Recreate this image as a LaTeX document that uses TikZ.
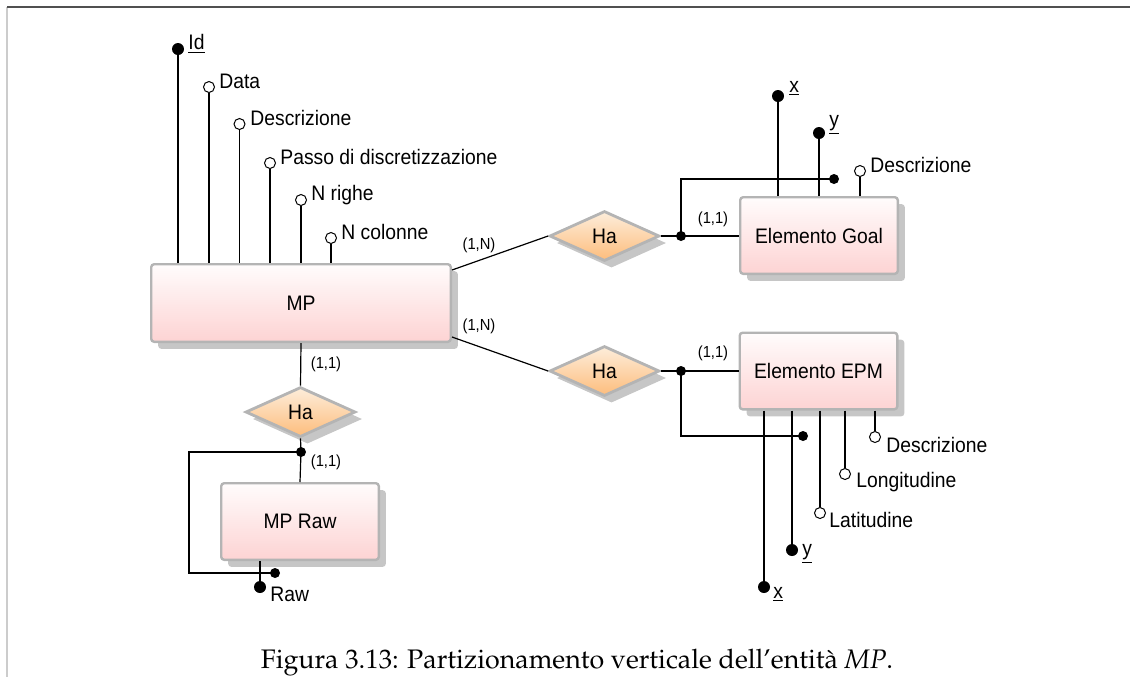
\documentclass[tikz,border=0pt]{standalone}
\usepackage[T1,TU]{fontenc}
\usepackage{fontspec}
\setmainfont{Liberation Sans}[FakeStretch=0.92]
\usetikzlibrary{shapes.geometric,shadows}

\definecolor{entborder}{HTML}{B4B4B4}
\definecolor{enttop}{HTML}{FFFCFC}
\definecolor{entbot}{HTML}{FDD3D3}
\definecolor{reltop}{HTML}{FDEDDB}
\definecolor{relbot}{HTML}{FDBD7C}
\definecolor{shadowgray}{HTML}{C6C6C6}
\definecolor{frametop}{HTML}{505050}
\definecolor{frameleft}{HTML}{CCCCCC}

\tikzset{
  entity/.style={rectangle, rounded corners=1.5pt, draw=entborder, line width=1.2pt,
    top color=enttop, bottom color=entbot,
    minimum width=78.8pt, minimum height=38.3pt, inner sep=0pt,
    font=\fontsize{10.5}{12}\selectfont,
    drop shadow={shadow xshift=3.5pt, shadow yshift=-3.5pt, fill=shadowgray, opacity=1}},
  relation/.style={diamond, aspect=2.1, draw=entborder, line width=1.4pt,
    top color=reltop, bottom color=relbot,
    minimum width=55pt, minimum height=25pt, inner sep=0pt,
    font=\fontsize{10.5}{12}\selectfont,
    drop shadow={shadow xshift=3.5pt, shadow yshift=-3.5pt, fill=shadowgray, opacity=1}},
  keyattr/.style={circle, fill=black, minimum size=6pt, inner sep=0pt},
  attr/.style={circle, draw=black, fill=white, line width=0.5pt, minimum size=5.5pt, inner sep=0pt},
  joint/.style={circle, fill=black, minimum size=5pt, inner sep=0pt},
  link/.style={line width=0.6pt},
  atext/.style={inner sep=0pt, anchor=base west, font=\fontsize{10.5}{12}\selectfont},
  card/.style={inner sep=0pt, font=\fontsize{8}{9}\selectfont},
}

\begin{document}
\begin{tikzpicture}[x=0.5pt, y=-0.5pt]
\useasboundingbox (0,0) rectangle (1130,677);

% page frame
\coordinate (fTL) at (7,7);
\coordinate (fTR) at (1130,7);
\coordinate (fBL) at (7,677);
\draw[frameleft, line width=0.8pt] (fTL) -- (fBL);
\draw[frametop, line width=0.8pt] (fTL) -- (fTR);

% entities and relationships
\node[entity, minimum width=149.8pt, minimum height=38.8pt] (mp) at (301,303) {MP};
\node[entity] (goal) at (819,235.5) {Elemento Goal};
\node[entity] (epm) at (818.5,371) {Elemento EPM};
\node[entity] (mpraw) at (300,521.5) {MP Raw};
\node[relation] (ha1) at (604.5,236) {Ha};
\node[relation] (ha2) at (604.5,371) {Ha};
\node[relation] (ha3) at (300.5,412) {Ha};

% attributes of MP
\node[keyattr] (aId) at (178,49) {};
\node[attr] (aData) at (209,87) {};
\node[attr] (aDesc) at (239.5,124) {};
\node[attr] (aPasso) at (270,163) {};
\node[attr] (aRighe) at (301,200) {};
\node[attr] (aCol) at (331,238) {};
\foreach \a in {aId,aData,aDesc,aPasso,aRighe,aCol}
  \draw[link] (\a |- mp.north) -- (\a);
\node[atext] (tId) at (188,49) {\underline{Id}};
\node[atext] (tData) at (219,88) {Data};
\node[atext] (tDesc) at (250,125) {Descrizione};
\node[atext] (tPasso) at (280,164) {Passo di discretizzazione};
\node[atext] (tRighe) at (311,200) {N righe};
\node[atext] (tCol) at (341,239) {N colonne};

% attributes of Elemento Goal
\node[keyattr] (gX) at (778,96) {};
\node[keyattr] (gY) at (819,133) {};
\node[attr] (gDesc) at (860,171) {};
\foreach \a in {gX,gY,gDesc}
  \draw[link] (\a |- goal.north) -- (\a);
\node[atext] (tgX) at (789,92) {\underline{x}};
\node[atext] (tgY) at (829,126) {\underline{y}};
\node[atext] (tgDesc) at (870,172) {Descrizione};

% attributes of Elemento EPM
\node[keyattr] (eX) at (764,587) {};
\node[keyattr] (eY) at (792,550) {};
\node[attr] (eLat) at (820,513) {};
\node[attr] (eLon) at (845,474) {};
\node[attr] (eDesc) at (875,437) {};
\foreach \a in {eX,eY,eLat,eLon,eDesc}
  \draw[link] (\a |- epm.south) -- (\a);
\node[atext] (teX) at (773,598) {\underline{x}};
\node[atext] (teY) at (802,555) {\underline{y}};
\node[atext] (teLat) at (829,527) {Latitudine};
\node[atext] (teLon) at (856,487) {Longitudine};
\node[atext] (teDesc) at (886,452) {Descrizione};

% attribute of MP Raw
\node[keyattr] (rRaw) at (260,587) {};
\draw[link] (rRaw |- mpraw.south) -- (rRaw);
\node[atext] (trRaw) at (270,601) {Raw};

% external identifiers
\node[joint] (j1) at (681,236) {};
\node[joint] (k1) at (834,179) {};
\node[joint] (j2) at (681,371) {};
\node[joint] (k2) at (803,436) {};
\node[joint] (j3) at (301,452) {};
\node[joint] (k3) at (275,573) {};
\coordinate (rawLoop) at (189,512);

\draw[link] ([yshift=-3.5pt]mp.north east) -- (ha1.west);
\draw[link] ([yshift=3pt]mp.south east) -- (ha2.west);
\draw[link] (ha1.east) -- (j1.center) -- (j1 -| goal.west);
\draw[link] (j1.center) |- (k1.center);
\draw[link] (ha2.east) -- (j2.center) -- (j2 -| epm.west);
\draw[link] (j2.center) |- (k2.center);
\draw[link] (mp.south) -- (ha3.north);
\draw[link] (ha3.south) -- (j3.center) -- (mpraw.north);
\draw[link] (j3.center) -| (rawLoop) |- (k3.center);

% cardinalities
\node[card] (c1) at (479,245) {(1,N)};
\node[card] (c2) at (479,326) {(1,N)};
\node[card] (c3) at (713,219) {(1,1)};
\node[card] (c4) at (713,353) {(1,1)};
\node[card] (c5) at (326,364) {(1,1)};
\node[card] (c6) at (326,462) {(1,1)};

% caption
\node[inner sep=0pt, anchor=base] (caption) at (577,668)
  {\fontencoding{T1}\fontfamily{ppl}\fontsize{13.4}{16}\selectfont
   Figura 3.13: Partizionamento verticale dell'entit\`a \textit{MP}.};
\end{tikzpicture}
\end{document}
